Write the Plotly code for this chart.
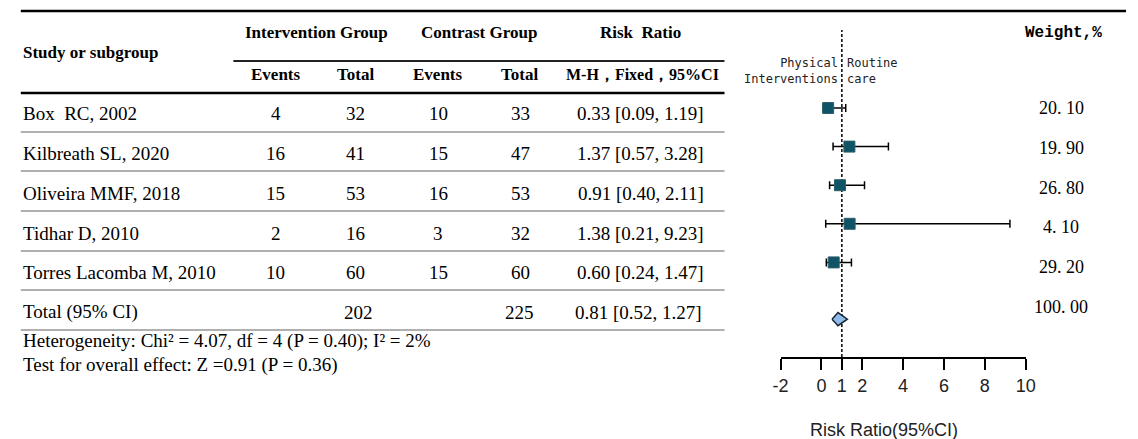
import plotly.graph_objects as go

W, H = 1138, 439

# ---- data -------------------------------------------------------------
studies = ["Box  RC, 2002", "Kilbreath SL, 2020", "Oliveira MMF, 2018",
           "Tidhar D, 2010", "Torres Lacomba M, 2010"]
int_events = [4, 16, 15, 2, 10]
int_total = [32, 41, 53, 16, 60]
con_events = [10, 15, 16, 3, 15]
con_total = [33, 47, 53, 32, 60]
rr = [0.33, 1.37, 0.91, 1.38, 0.60]
rr_lo = [0.09, 0.57, 0.40, 0.21, 0.24]
rr_hi = [1.19, 3.28, 2.11, 9.23, 1.47]
weights = [20.10, 19.90, 26.80, 4.10, 29.20]

total_int = 202
total_con = 225
total_rr = 0.81
total_lo = 0.52
total_hi = 1.27
total_weight = 100.00

chi2, df_het, p_het, i2 = 4.07, 4, 0.40, 2
z_overall, p_overall = 0.91, 0.36

x_ticks = [-2, 0, 1, 2, 4, 6, 8, 10]

# ---- layout helpers (pixel -> paper) ---------------------------------
def px(x):
    return x / W


def py(y):
    return 1 - y / H


ROW0, ROW_STEP = 108, 38.6          # pixel row of first study, row spacing
PLOT_TOP, PLOT_BOTTOM = 30, 357
rows = list(range(len(studies)))
total_row = 5.47

SERIF = "Liberation Serif"
SANS = "Liberation Sans"

fig = go.Figure()

# study estimates with confidence intervals
fig.add_trace(go.Scatter(
    x=rr, y=rows, mode="markers",
    marker=dict(symbol="square", size=11, color="#0e5466",
                line=dict(color="#2f5f6b", width=1)),
    error_x=dict(type="data", symmetric=False,
                 array=[h - r for h, r in zip(rr_hi, rr)],
                 arrayminus=[r - l for r, l in zip(rr, rr_lo)],
                 color="black", thickness=1.5, width=4),
    hoverinfo="skip", showlegend=False,
))

# pooled estimate diamond
dh = 0.17
fig.add_trace(go.Scatter(
    x=[total_lo, total_rr, total_hi, total_rr, total_lo],
    y=[total_row, total_row - dh, total_row, total_row + dh, total_row],
    mode="lines", fill="toself", fillcolor="#8fbbec",
    line=dict(color="#1b2633", width=1.5),
    hoverinfo="skip", showlegend=False,
))

shapes = []
# line of no effect
shapes.append(dict(type="line", xref="x", yref="paper", x0=1, x1=1,
                   y0=py(PLOT_BOTTOM), y1=py(PLOT_TOP), layer="below",
                   line=dict(color="black", width=1.5, dash="3px,2px")))


def hline(y, x0, x1, color, width):
    shapes.append(dict(type="line", xref="paper", yref="paper",
                       x0=px(x0), x1=px(x1), y0=py(y), y1=py(y),
                       line=dict(color=color, width=width)))


hline(11, 13, 1136, "black", 2.5)
hline(61, 229, 728, "#222222", 2)
hline(93, 13, 728, "black", 2.5)
for y in [132, 171, 211, 251, 290, 330]:
    hline(y, 13, 728, "#b0b0b0", 2)

ann = []


def text(x, y, s, size=19, family=SERIF, anchor="center", color="black",
         align="center"):
    ann.append(dict(x=px(x), y=py(y), xref="paper", yref="paper", text=s,
                    showarrow=False, xanchor=anchor, yanchor="middle",
                    align=align, font=dict(family=family, size=size,
                                           color=color)))


# header
text(13, 52, "<b>Study or subgroup</b>", size=17, anchor="left")
text(313, 32, "<b>Intervention Group</b>", size=17)
text(479, 32, "<b>Contrast Group</b>", size=17)
text(643, 32, "<b>Risk  Ratio</b>", size=17)
text(272, 75, "<b>Events</b>", size=17)
text(353, 75, "<b>Total</b>", size=17)
text(437, 75, "<b>Events</b>", size=17)
text(520, 75, "<b>Total</b>", size=17)
text(645, 75, "<b>M-H，Fixed，95%CI</b>", size=16)
text(1072, 33, "<b>Weight,%</b>", size=16, family="Liberation Mono")

# direction labels
text(845, 71, "Physical<br>Interventions", size=12,
     family="DejaVu Sans Mono", anchor="right", align="right",
     color="#222222")
text(850, 71, "Routine<br>care", size=12, family="DejaVu Sans Mono",
     anchor="left", align="left", color="#222222")

# study rows
row_text_y = [114, 153, 193, 233, 272]
for i, name in enumerate(studies):
    y = row_text_y[i]
    text(13, y, name, anchor="left")
    text(272, y, str(int_events[i]))
    text(353, y, str(int_total[i]))
    text(437, y, str(con_events[i]))
    text(521, y, str(con_total[i]))
    text(643, y, f"{rr[i]:.2f} [{rr_lo[i]:.2f}, {rr_hi[i]:.2f}]")

# total row
text(13, 312, "Total (95% CI)", anchor="left")
text(356, 312, str(total_int))
text(520, 312, str(total_con))
text(641, 312, f"{total_rr:.2f} [{total_lo:.2f}, {total_hi:.2f}]")

# weights column
for i, w in enumerate(weights + [total_weight]):
    text(1070, 108 + 39.8 * i, f"{w:.2f}".replace(".", ". "), size=18)

# footnotes
text(13, 341, f"Heterogeneity: Chi² = {chi2:.2f}, df = {df_het} "
     f"(P = {p_het:.2f}); I² = {i2}%", anchor="left")
text(13, 365, f"Test for overall effect: Z ={z_overall:.2f} "
     f"(P = {p_overall:.2f})", anchor="left")

# axis title
text(890, 430, "Risk Ratio(95%CI)", size=18, family=SANS, color="#222222")

fig.update_layout(
    width=W, height=H,
    margin=dict(l=0, r=0, t=0, b=0),
    paper_bgcolor="white", plot_bgcolor="white",
    shapes=shapes, annotations=ann, showlegend=False,
    xaxis=dict(domain=[px(785), px(1034)], range=[-2, 10],
               tickvals=x_ticks, ticktext=[str(t) for t in x_ticks],
               showline=True, linecolor="black", linewidth=2,
               ticks="outside", ticklen=11, tickwidth=2, tickcolor="black",
               showgrid=False, zeroline=False,
               tickfont=dict(family=SANS, size=18, color="#222222"),
               anchor="y", fixedrange=True),
    yaxis=dict(domain=[py(PLOT_BOTTOM), py(PLOT_TOP)],
               range=[(PLOT_BOTTOM - ROW0) / ROW_STEP,
                      (PLOT_TOP - ROW0) / ROW_STEP],
               visible=False, fixedrange=True),
)

fig.write_html("out.html")
